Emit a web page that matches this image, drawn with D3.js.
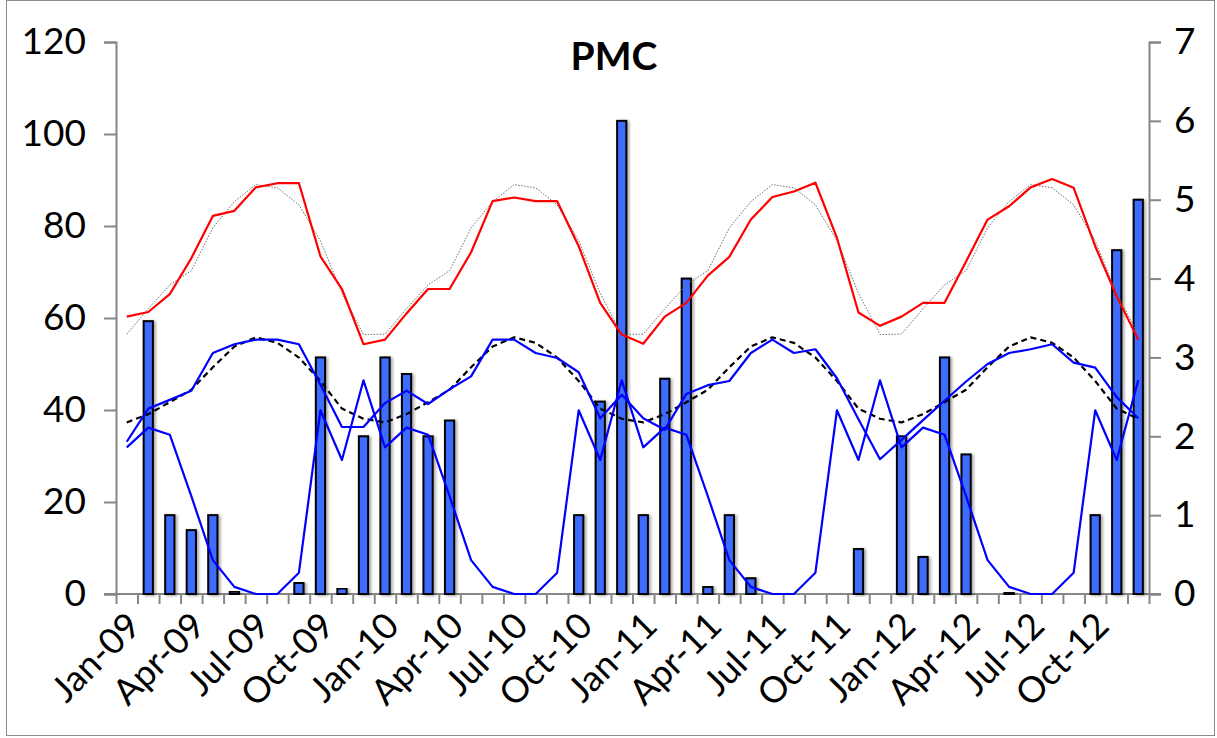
<!DOCTYPE html>
<html>
<head>
<meta charset="utf-8">
<script src="https://cdn.jsdelivr.net/npm/d3@7/dist/d3.min.js"></script>
<style>
  html, body { margin: 0; padding: 0; background: #fff; }
  svg { display: block; }
  text { font-family: Lato, "Open Sans", sans-serif; fill: #000; }
</style>
</head>
<body>
<svg id="chart" width="1217" height="738"></svg>
<script>
// Months Jan-09 .. Dec-12
const monthNames = ["Jan","Feb","Mar","Apr","May","Jun","Jul","Aug","Sep","Oct","Nov","Dec"];
const years = ["09","10","11","12"];
const months = years.flatMap(y => monthNames.map(m => m + "-" + y));

// Monthly totals (right axis)
const rainfall = [
  0, 3.46, 1.0, 0.81, 1.0, 0.03, 0, 0, 0.14, 3.0, 0.07, 2.0,
  3.0, 2.79, 2.0, 2.2, 0, 0, 0, 0, 0, 1.0, 2.44, 6.0,
  1.0, 2.73, 4.0, 0.09, 1.0, 0.2, 0, 0, 0, 0, 0.57, 0,
  2.0, 0.47, 3.0, 1.77, 0, 0.02, 0, 0, 0, 1.0, 4.36, 5.0
];

// Long-term monthly normal (right axis)
const rainfallNormal = [
  1.86, 2.11, 2.02, 1.24, 0.43, 0.09, 0, 0, 0.27, 2.33, 1.70, 2.71,
  1.86, 2.11, 2.02, 1.24, 0.43, 0.09, 0, 0, 0.27, 2.33, 1.70, 2.71,
  1.86, 2.11, 2.02, 1.24, 0.43, 0.09, 0, 0, 0.27, 2.33, 1.70, 2.71,
  1.86, 2.11, 2.02, 1.24, 0.43, 0.09, 0, 0, 0.27, 2.33, 1.70, 2.71
];

// Observed upper series (left axis)
const upperObserved = [
  60.3, 61.3, 65.2, 73.0, 82.2, 83.3, 88.4, 89.3, 89.3, 73.4, 66.3, 54.3,
  55.3, 61.0, 66.3, 66.3, 74.3, 85.4, 86.2, 85.4, 85.4, 75.6, 63.3, 56.4,
  54.4, 60.3, 63.3, 69.2, 73.3, 81.4, 86.3, 87.5, 89.4, 77.4, 61.2, 58.3,
  60.3, 63.3, 63.3, 72.3, 81.4, 84.3, 88.4, 90.2, 88.3, 75.6, 64.7, 55.3
];

// Upper series normal (left axis)
const upperNormal = [
  56.5, 62.0, 67.2, 70.3, 79.6, 85.3, 89.0, 88.3, 84.6, 76.8, 65.4, 56.4,
  56.5, 62.0, 67.2, 70.3, 79.6, 85.3, 89.0, 88.3, 84.6, 76.8, 65.4, 56.4,
  56.5, 62.0, 67.2, 70.3, 79.6, 85.3, 89.0, 88.3, 84.6, 76.8, 65.4, 56.4,
  56.5, 62.0, 67.2, 70.3, 79.6, 85.3, 89.0, 88.3, 84.6, 76.8, 65.4, 56.4
];

// Observed lower series (left axis)
const lowerObserved = [
  33.1, 40.3, 42.2, 44.2, 52.4, 54.3, 55.3, 55.3, 54.3, 45.5, 36.3, 36.3,
  41.5, 44.2, 41.3, 44.5, 47.3, 55.3, 55.3, 52.4, 51.3, 48.2, 38.2, 43.3,
  38.2, 35.7, 43.5, 45.4, 46.3, 52.4, 55.3, 52.4, 53.2, 46.9, 38.0, 29.3,
  33.5, 37.8, 42.0, 46.2, 50.0, 52.4, 53.2, 54.3, 50.3, 49.2, 42.8, 38.2
];

// Lower series normal (left axis)
const lowerNormal = [
  37.3, 39.1, 41.7, 44.4, 49.3, 53.8, 55.8, 54.6, 51.4, 46.3, 40.3, 38.1,
  37.3, 39.1, 41.7, 44.4, 49.3, 53.8, 55.8, 54.6, 51.4, 46.3, 40.3, 38.1,
  37.3, 39.1, 41.7, 44.4, 49.3, 53.8, 55.8, 54.6, 51.4, 46.3, 40.3, 38.1,
  37.3, 39.1, 41.7, 44.4, 49.3, 53.8, 55.8, 54.6, 51.4, 46.3, 40.3, 38.1
];

const leftTicks = [0, 20, 40, 60, 80, 100, 120];
const rightTicks = [0, 1, 2, 3, 4, 5, 6, 7];
const title = "PMC";

// Layout
const plot = { left: 116, right: 1149, top: 42, bottom: 594 };
const svg = d3.select("#chart");

// Outer frame
svg.append("rect")
  .attr("x", 6.5).attr("y", 0.5).attr("width", 1208).attr("height", 735)
  .attr("fill", "#fff").attr("stroke", "#8c8c8c").attr("stroke-width", 1);

const defs = svg.append("defs");
const shadow = defs.append("filter").attr("id", "barShadow")
  .attr("x", "-50%").attr("y", "-5%").attr("width", "200%").attr("height", "110%");
shadow.append("feDropShadow")
  .attr("dx", 2).attr("dy", 1).attr("stdDeviation", 1.6)
  .attr("flood-color", "#000").attr("flood-opacity", 0.35);

const x = d3.scaleBand().domain(months).range([plot.left, plot.right]).padding(0);
const xEdge = d3.scaleLinear().domain([0, months.length]).range([plot.left, plot.right]);
const yLeft = d3.scaleLinear().domain([0, 120]).range([plot.bottom, plot.top]);
const yRight = d3.scaleLinear().domain([0, 7]).range([plot.bottom, plot.top]);
const cx = m => x(m) + x.bandwidth() / 2;

const axisColor = "#868686";

// Left axis
const gL = svg.append("g").attr("transform", `translate(${plot.left},0)`)
  .call(d3.axisLeft(yLeft).tickValues(leftTicks).tickSize(12).tickPadding(18));
// Right axis
const gR = svg.append("g").attr("transform", `translate(${plot.right},0)`)
  .call(d3.axisRight(yRight).tickValues(rightTicks).tickFormat(d3.format("d"))
    .tickSize(12).tickPadding(13));
// Category tick marks on boundaries
const gB = svg.append("g").attr("transform", `translate(0,${plot.bottom})`)
  .call(d3.axisBottom(xEdge).tickValues(d3.range(months.length + 1)).tickSize(10).tickFormat(""));

[gL, gR, gB].forEach(g => {
  g.select(".domain").attr("stroke", axisColor).attr("stroke-width", 2);
  g.selectAll(".tick line").attr("stroke", axisColor).attr("stroke-width", 2);
  g.selectAll(".tick text").style("font-size", "37px").attr("fill", "#000")
    .style("font-family", "Lato, 'Open Sans', sans-serif");
});
gB.select(".domain").attr("d", `M${plot.left - 12},0H${plot.right + 12}`);

// Category labels every quarter
svg.append("g").selectAll("text")
  .data(months.filter((m, i) => i % 3 === 0))
  .join("text")
  .attr("transform", m => `translate(${cx(m) + 7},${plot.bottom + 25}) rotate(-45)`)
  .attr("text-anchor", "end")
  .attr("dy", "0.35em")
  .style("font-size", "36px")
  .text(m => m);

// Bars (right axis)
const barW = x.bandwidth() * 0.43;
svg.append("g").selectAll("rect")
  .data(months.map((m, i) => ({ m, v: rainfall[i] })).filter(d => d.v > 0))
  .join("rect")
  .attr("x", d => cx(d.m) - barW / 2)
  .attr("y", d => yRight(d.v))
  .attr("width", barW)
  .attr("height", d => plot.bottom - yRight(d.v))
  .attr("fill", "#3d6cff")
  .attr("stroke", "#000")
  .attr("stroke-width", 2)
  .attr("filter", "url(#barShadow)");

function drawLine(values, scale, color, width, dash) {
  const line = d3.line().x((d, i) => cx(months[i])).y(d => scale(d));
  svg.append("path")
    .datum(values)
    .attr("d", line)
    .attr("fill", "none")
    .attr("stroke", color)
    .attr("stroke-width", width)
    .attr("stroke-linejoin", "round")
    .attr("stroke-dasharray", dash || null);
}

drawLine(upperNormal, yLeft, "#6e6e6e", 1, "1.5,1.5");
drawLine(upperObserved, yLeft, "#ff0000", 2.2);
drawLine(lowerNormal, yLeft, "#000000", 2.2, "6,4");
drawLine(lowerObserved, yLeft, "#0000ff", 2.2);
drawLine(rainfallNormal, yRight, "#0000ff", 2.2);

// Title
svg.append("text")
  .attr("x", 614).attr("y", 70)
  .attr("text-anchor", "middle")
  .style("font-size", "39px").style("font-weight", "bold")
  .text(title);
</script>
</body>
</html>
